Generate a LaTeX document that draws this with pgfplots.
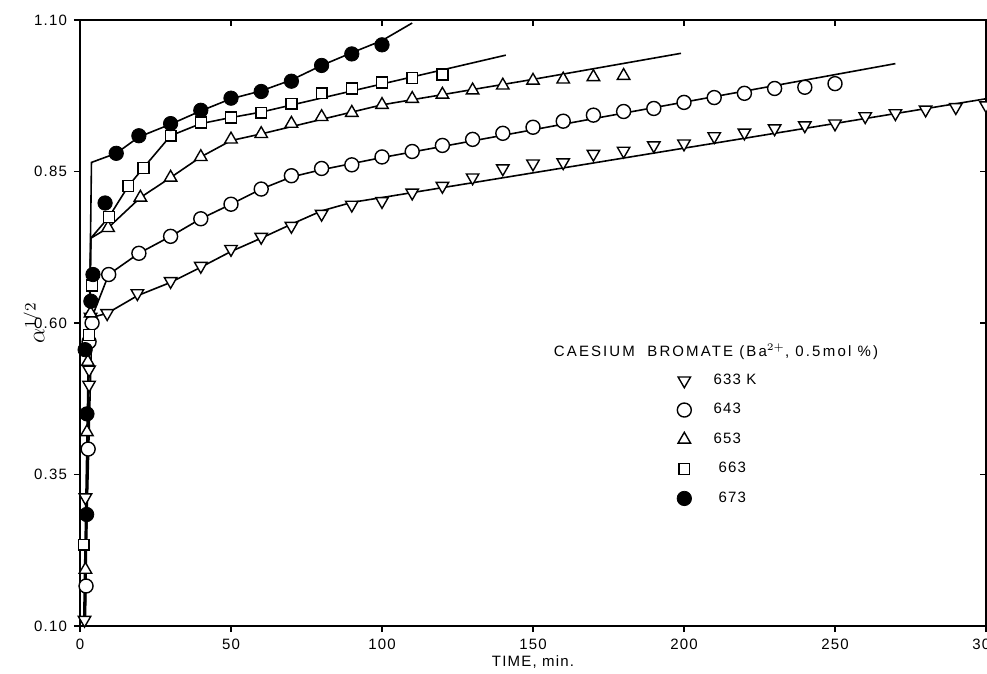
\documentclass[border=0pt]{standalone}
\usepackage{fontspec}
\setmainfont{Liberation Sans}
\usepackage{pgfplots}
\pgfplotsset{compat=1.18}
\newcommand\lbl{\fontsize{7.5}{9}\selectfont\addfontfeatures{LetterSpace=8}}

\begin{document}
\begin{tikzpicture}
% ===== main axis: data, left/bottom ticks =====
\begin{axis}[
    width=453pt, height=303pt, scale only axis,
    xmin=0, xmax=300, ymin=0.10, ymax=1.10,
    xtick={0,50,...,300},
    ytick={0.10,0.35,0.60,0.85,1.10},
    xtick pos=left, ytick pos=left,
    tick align=outside, major tick length=3pt,
    tick style={black, line width=0.8pt},
    axis line style={line width=1pt},
    /pgf/number format/assume math mode=true,
    ticklabel style={font=\lbl},
    yticklabel style={/pgf/number format/.cd, fixed, fixed zerofill, precision=2},
    xlabel={TIME, min.},
    every axis x label/.style={at={(axis description cs:0.5,-0.06)}, anchor=center, font=\lbl},
    clip=false,
    legend style={draw=none, fill=none, at={(rel axis cs:0.652,0.43)}, anchor=north west,
        font=\lbl, row sep=4pt, column sep=9pt},
    legend cell align=left,
]
\coordinate (sw) at (rel axis cs:0,0);
\coordinate (ne) at (rel axis cs:1,1);

% fitted curves
\addplot[black, line width=0.8pt, forget plot] coordinates {
 (1.2,0.10) (3,0.608) (9,0.616) (19,0.645) (30,0.667) (40,0.692) (50,0.718) (60,0.740)
 (70,0.763) (80,0.785) (90,0.799) (100,0.807) (300,0.970)};
\addplot[black, line width=0.8pt, forget plot] coordinates {
 (1.4,0.10) (4,0.61) (9.5,0.680) (19.5,0.715) (30,0.743) (40,0.772) (50,0.796) (60,0.821)
 (70,0.841) (80,0.853) (90,0.863) (100,0.873) (172,0.939) (270,1.028)};
\addplot[black, line width=0.8pt, forget plot] coordinates {
 (1.6,0.10) (3.6,0.74) (9.3,0.757) (20,0.807) (30,0.840) (40,0.874) (50,0.901) (60,0.912)
 (100,0.960) (150,1.002) (199,1.045)};
\addplot[black, line width=0.8pt, forget plot] coordinates {
 (1.6,0.10) (3.6,0.74) (9.6,0.775) (16,0.826) (21,0.856) (30,0.909) (40,0.929) (50,0.939)
 (60,0.948) (141,1.042)};
\addplot[black, line width=0.8pt, forget plot] coordinates {
 (1.8,0.10) (3.8,0.865) (12,0.880) (19.5,0.907) (30,0.928) (40,0.950) (50,0.970) (60,0.983)
 (70,1.001) (80,1.025) (90,1.046) (100,1.066) (110,1.095)};

% measured points
\addplot[only marks, mark=triangle*, mark size=3.6pt,
    mark options={rotate=180, fill=white, draw=black, line width=0.7pt}] coordinates {
 (1.5,0.11) (1.8,0.312) (3,0.498) (3,0.523) (3.5,0.61) (9,0.616) (19,0.649) (30,0.669)
 (40,0.694) (50,0.722) (60,0.742) (70,0.760) (80,0.780) (90,0.795) (100,0.801) (110,0.815)
 (120,0.826) (130,0.840) (140,0.855) (150,0.863) (160,0.865) (170,0.879) (180,0.884)
 (190,0.893) (200,0.896) (210,0.908) (220,0.914) (230,0.921) (240,0.926) (250,0.929)
 (260,0.941) (270,0.946) (280,0.952) (290,0.956) (300,0.959)};
\addlegendentry{633 K}
\addplot[only marks, mark=*, mark size=3.5pt,
    mark options={fill=white, draw=black, line width=0.7pt}] coordinates {
 (2,0.166) (2.7,0.392) (3,0.569) (4,0.60) (9.5,0.680) (19.5,0.715) (30,0.743) (40,0.772)
 (50,0.796) (60,0.821) (70,0.843) (80,0.855) (90,0.861) (100,0.874) (110,0.883) (120,0.893)
 (130,0.903) (140,0.913) (150,0.923) (160,0.933) (170,0.943) (180,0.949) (190,0.954)
 (200,0.964) (210,0.972) (220,0.979) (230,0.987) (240,0.989) (250,0.995)};
\addlegendentry{643}
\addplot[only marks, mark=triangle*, mark size=3.6pt,
    mark options={fill=white, draw=black, line width=0.7pt}] coordinates {
 (1.8,0.193) (2.3,0.42) (2.6,0.536) (3.5,0.616) (9.3,0.757) (20,0.807) (30,0.840) (40,0.874)
 (50,0.903) (60,0.912) (70,0.929) (80,0.940) (90,0.947) (100,0.960) (110,0.970) (120,0.977)
 (130,0.984) (140,0.992) (150,1.000) (160,1.002) (170,1.006) (180,1.008)};
\addlegendentry{653}
\addplot[only marks, mark=square*, mark size=2.7pt,
    mark options={fill=white, draw=black, line width=0.7pt}] coordinates {
 (1.2,0.234) (3,0.58) (4,0.662) (9.6,0.775) (16,0.826) (21,0.856) (30,0.909) (40,0.931)
 (50,0.939) (60,0.947) (70,0.962) (80,0.979) (90,0.987) (100,0.997) (110,1.004) (120,1.010)};
\addlegendentry{\hspace{2.5pt}663}
\addplot[only marks, mark=*, mark size=3.6pt,
    mark options={fill=black, draw=black}] coordinates {
 (2.2,0.284) (2.3,0.45) (1.7,0.556) (3.6,0.636) (4.3,0.68) (8.3,0.798) (12,0.880) (19.5,0.909)
 (30,0.929) (40,0.951) (50,0.971) (60,0.982) (70,0.999) (80,1.025) (90,1.044) (100,1.059)};
\addlegendentry{\hspace{2.5pt}673}

\node[font=\lbl\addfontfeatures{LetterSpace=14}, anchor=center] at (rel axis cs:0.702,0.452)
    {CAESIUM\ \ BROMATE (Ba$^{2+}$, 0.5\,mol \%)};
\node[rotate=90, anchor=center] at ([xshift=-23pt]rel axis cs:0,0.5)
    {\fontsize{12}{14}\selectfont$\alpha^{1/2}$};
\end{axis}

% ===== overlay axis: inward ticks on top and right =====
\begin{axis}[
    width=453pt, height=303pt, scale only axis,
    xmin=0, xmax=300, ymin=0.10, ymax=1.10,
    xtick={0,50,...,300},
    ytick={0.10,0.35,0.60,0.85,1.10},
    xticklabels={}, yticklabels={},
    xtick pos=right, ytick pos=right,
    tick align=inside, major tick length=3pt,
    tick style={black, line width=0.8pt},
    axis line style={draw=none},
]
\end{axis}

\pgfresetboundingbox
\path[use as bounding box] ([xshift=-40pt,yshift=-23.5pt]sw) rectangle ([xshift=0.5pt,yshift=10pt]ne);
\end{tikzpicture}
\end{document}
